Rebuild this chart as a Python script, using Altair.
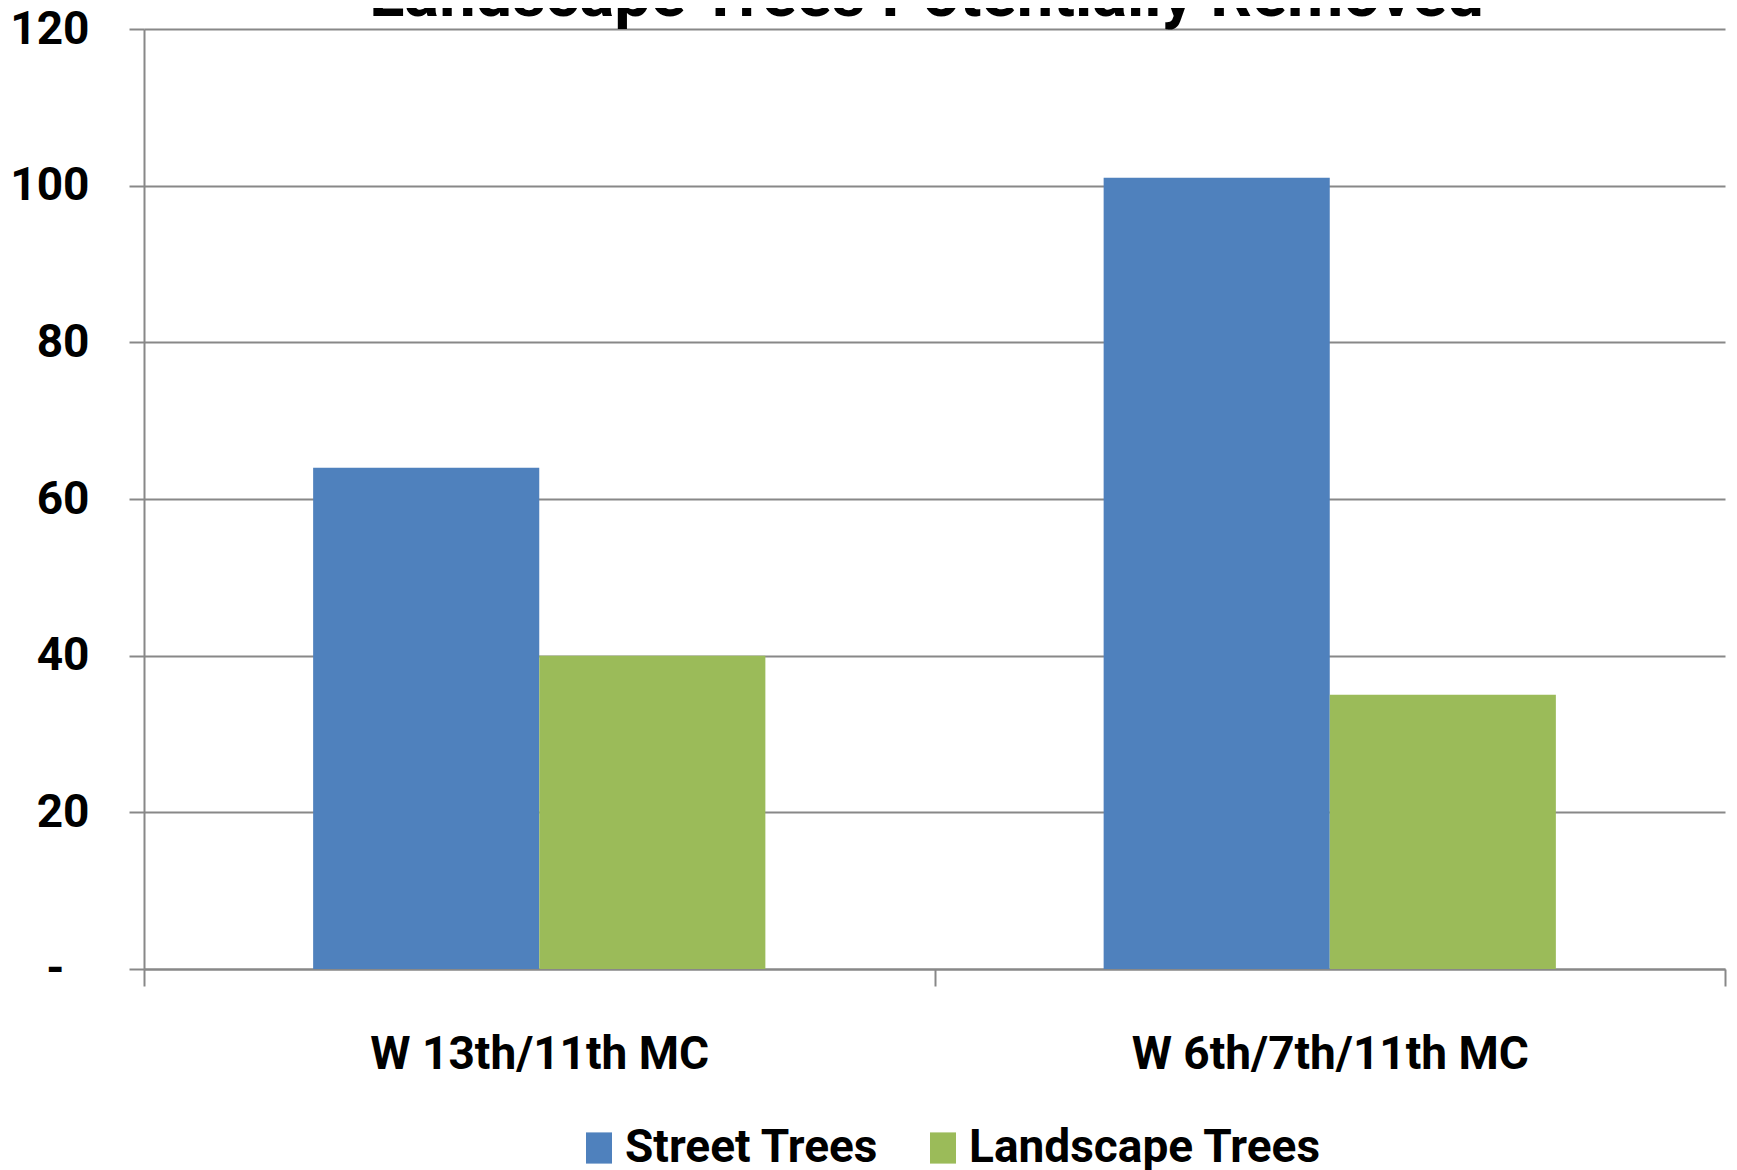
import altair as alt
import pandas as pd

categories = ["W 13th/11th MC", "W 6th/7th/11th MC"]
series = ["Street Trees", "Landscape Trees"]
street_trees = [64, 101]
landscape_trees = [40, 35]
colors = ["#4F81BD", "#9BBB59"]
y_ticks = [0, 20, 40, 60, 80, 100, 120]
title_text = "Landscape Trees Potentially Removed"

rows = []
for i, c in enumerate(categories):
    rows.append({"category": c, "series": series[0], "value": street_trees[i]})
    rows.append({"category": c, "series": series[1], "value": landscape_trees[i]})
df = pd.DataFrame(rows)

FONT = "Roboto"
FS = 46
W, H = 1581, 940
GRID = "#888888"

chart = (
    alt.Chart(df)
    .mark_bar()
    .encode(
        x=alt.X(
            "category:N",
            sort=categories,
            scale=alt.Scale(paddingInner=0, paddingOuter=0),
            axis=alt.Axis(
                title=None,
                labelAngle=0,
                tickBand="extent",
                tickSize=17,
                labelPadding=46,
                labelLimit=1000,
                grid=False,
            ),
        ),
        xOffset=alt.XOffset(
            "series:N",
            sort=series,
            scale=alt.Scale(paddingOuter=0.748, paddingInner=0),
        ),
        y=alt.Y(
            "value:Q",
            scale=alt.Scale(domain=[0, 120], nice=False),
            axis=alt.Axis(
                title=None,
                values=y_ticks,
                tickSize=15,
                labelPadding={"condition": {"test": "datum.value == 0", "value": 65}, "value": 40},
                grid=True,
                labelExpr="datum.value == 0 ? '-' : datum.label",
            ),
        ),
        color=alt.Color(
            "series:N",
            sort=series,
            scale=alt.Scale(domain=series, range=colors),
            legend=alt.Legend(
                title=None,
                orient="none",
                legendX=432,
                legendY=1096,
                direction="horizontal",
                symbolType="M-1,-1.2H1V1.2H-1Z",
                symbolSize=676,
                symbolStrokeWidth=0,
                symbolOpacity=1,
                labelFont=FONT,
                labelFontSize=FS,
                labelFontWeight="bold",
                labelColor="black",
                labelLimit=800,
                labelOffset=3,
                columnPadding=41,
                padding=0,
            ),
        ),
    )
    .properties(
        width=W,
        height=H,
        autosize=alt.AutoSizeParams(type="none"),
        padding={"left": 136, "top": 21, "right": 4, "bottom": 201},
        title=alt.Title(
            title_text,
            font=FONT,
            fontSize=65,
            fontWeight="bold",
            color="black",
            anchor="middle",
            baseline="alphabetic",
            offset=-75,
            dx=-8,
        ),
    )
    .configure_view(stroke=None)
    .configure_axis(
        domainColor=GRID,
        domainWidth=2,
        tickColor=GRID,
        tickWidth=2,
        gridColor=GRID,
        gridWidth=2,
        labelFont=FONT,
        labelFontSize=FS,
        labelFontWeight="bold",
        labelColor="black",
    )
)

chart.save("out.html", embed_options={"renderer": "svg", "actions": False})
